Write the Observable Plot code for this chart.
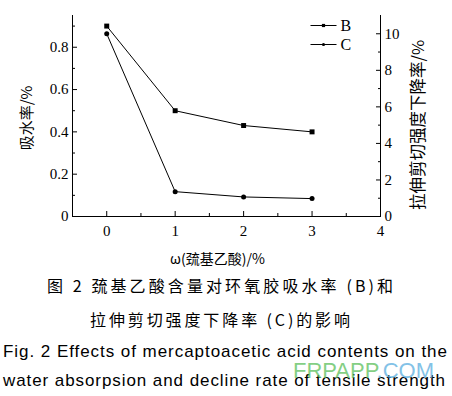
<!DOCTYPE html>
<html><head><meta charset="utf-8">
<script src="https://cdn.jsdelivr.net/npm/d3@7"></script>
<script src="https://cdn.jsdelivr.net/npm/@observablehq/plot@0.6"></script>
<style>
body{margin:0;background:#fff}
#c{position:relative;width:452px;height:396px;overflow:hidden}
#c svg{display:block}
#c g[aria-label$="tick label"] text{font-family:"Liberation Serif","DejaVu Serif",serif !important;font-size:15px}
</style>
</head><body><div id="c"></div>
<script>
// ---- data ----
const contents = [0, 1, 2, 3];                       // ω(巯基乙酸)/%
const waterAbsorption = [0.90, 0.50, 0.43, 0.40];    // B, left axis 吸水率/%
const strengthDecline = [10.0, 1.36, 1.07, 0.98];    // C, right axis 拉伸剪切强度下降率/%
const seriesNames = ["B", "C"];
const xTicks = [0, 1, 2, 3, 4];
const xMinorTicks = [0.5, 1.5, 2.5, 3.5];
const leftTicks = [0, 0.2, 0.4, 0.6, 0.8];
const leftMinorTicks = [0.1, 0.3, 0.5, 0.7, 0.9];
const rightTicks = [0, 2, 4, 6, 8, 10];
const rightMinorTicks = [1, 3, 5, 7, 9];
const xDomain = [-0.5, 4];
const leftDomain = [0, 0.95];
const rightDomain = [0, 11];
const xLabel = "ω(巯基乙酸)/%";
const leftLabel = "吸水率/%";
const rightLabel = "拉伸剪切强度下降率/%";
const captionLines = [
  "图 2  巯基乙酸含量对环氧胶吸水率 (B)和",
  "拉伸剪切强度下降率 (C)的影响",
  "Fig. 2   Effects of mercaptoacetic acid contents on the",
  "water absorpsion and decline rate of tensile strength"
];

// map right-axis values into left-axis space
const toLeft = v => v * leftDomain[1] / rightDomain[1];
const toRight = v => v * rightDomain[1] / leftDomain[1];

const B = contents.map((x, i) => ({x, y: waterAbsorption[i]}));
const C = contents.map((x, i) => ({x, y: toLeft(strengthDecline[i])}));

const legendLine = {draw(ctx) { ctx.moveTo(-13, 0); ctx.lineTo(13, 0); }};
const serif = "Liberation Serif";
const cjk = "Noto Sans CJK SC";

const fmtLeft = d => d === 0 ? "0" : d.toFixed(1);

const chart = Plot.plot({
  width: 452, height: 270,
  marginLeft: 72, marginRight: 72, marginTop: 15, marginBottom: 54,
  x: {domain: xDomain},
  y: {domain: leftDomain},
  style: {fontFamily: serif, fontSize: "15px", color: "#000", background: "#fff"},
  marks: [
    Plot.ruleX([xDomain[0], xDomain[1]], {stroke: "#000", strokeWidth: 1}),
    Plot.ruleY([leftDomain[0]], {stroke: "#000", strokeWidth: 1}),
    Plot.axisX(xTicks, {anchor: "bottom", tickSize: -5, tickPadding: 14, label: null, fontSize: 15, fontFamily: serif}),
    Plot.axisX(xMinorTicks, {anchor: "bottom", tickSize: -3, tickFormat: () => "", label: null}),
    Plot.axisY(leftTicks, {anchor: "left", tickSize: -5, tickPadding: 9, tickFormat: fmtLeft, label: null, fontSize: 15, fontFamily: serif}),
    Plot.axisY(leftMinorTicks, {anchor: "left", tickSize: -3, tickFormat: () => "", label: null}),
    Plot.axisY(rightTicks.map(toLeft), {anchor: "right", tickSize: -5, tickPadding: 9, tickFormat: d => String(Math.round(toRight(d))), label: null, fontSize: 15, fontFamily: serif}),
    Plot.axisY(rightMinorTicks.map(toLeft), {anchor: "right", tickSize: -3, tickFormat: () => "", label: null}),
    Plot.line(B, {x: "x", y: "y", stroke: "#000", strokeWidth: 1}),
    Plot.line(C, {x: "x", y: "y", stroke: "#000", strokeWidth: 1}),
    Plot.dot(B, {x: "x", y: "y", symbol: "square", r: 2.8, fill: "#000", stroke: "none"}),
    Plot.dot(C, {x: "x", y: "y", symbol: "circle", r: 2.5, fill: "#000", stroke: "none"}),
    // legend
    Plot.dot([seriesNames[0]], {frameAnchor: "top-right", dx: -57, dy: 10, symbol: legendLine, r: 4, stroke: "#000", fill: "none", strokeWidth: 1}),
    Plot.dot([seriesNames[1]], {frameAnchor: "top-right", dx: -57, dy: 29, symbol: legendLine, r: 4, stroke: "#000", fill: "none", strokeWidth: 1}),
    Plot.dot([seriesNames[0]], {frameAnchor: "top-right", dx: -57, dy: 10, symbol: "square", r: 1.8, fill: "#000", stroke: "none"}),
    Plot.dot([seriesNames[1]], {frameAnchor: "top-right", dx: -57, dy: 29, symbol: "circle", r: 1.6, fill: "#000", stroke: "none"}),
    Plot.text([seriesNames[0]], {frameAnchor: "top-right", dx: -40, dy: 10, textAnchor: "start", lineAnchor: "middle", fontSize: 16, fontFamily: serif}),
    Plot.text([seriesNames[1]], {frameAnchor: "top-right", dx: -40, dy: 29, textAnchor: "start", lineAnchor: "middle", fontSize: 16, fontFamily: serif}),
    // axis titles
    Plot.text([leftLabel], {frameAnchor: "left", dx: -45, dy: 2, rotate: -90, textAnchor: "middle", lineAnchor: "middle", fontSize: 15, fontFamily: cjk}),
    Plot.text([rightLabel], {frameAnchor: "right", dx: 38, dy: 9, rotate: -90, textAnchor: "middle", lineAnchor: "middle", fontSize: 16.5, fontFamily: cjk}),
    Plot.text([xLabel], {frameAnchor: "bottom", dx: -9, dy: 43, textAnchor: "middle", lineAnchor: "middle", fontSize: 14, fontFamily: cjk})
  ]
});

const root = document.getElementById("c");
root.appendChild(chart);
d3.select(chart).selectAll('g[aria-label$="tick label"]').attr("font-family", "Liberation Serif");

// captions below the chart
const cap = d3.select(root).append("svg")
  .attr("width", 452).attr("height", 126)
  .style("position", "absolute").style("left", "0px").style("top", "270px");

const capSpecs = [
  {y: 22, x: 220, len: 346, size: 16, font: cjk},
  {y: 56, x: 220, len: 260, size: 16, font: cjk},
  {y: 87, x: 225, len: 444, size: 17, font: "Liberation Sans"},
  {y: 116, x: 224, len: 442, size: 17, font: "Liberation Sans"}
];
captionLines.forEach((t, i) => {
  const s = capSpecs[i];
  cap.append("text").text(t)
    .attr("x", s.x).attr("y", s.y)
    .attr("text-anchor", "middle")
    .attr("textLength", s.len).attr("lengthAdjust", "spacing")
    .attr("font-family", s.font).attr("font-size", s.size).attr("fill", "#000");
});

// watermark
const wm = cap.append("text").attr("x", 293).attr("y", 108)
  .attr("font-family", "Liberation Sans").attr("font-size", 22)
  .attr("opacity", 0.75);
wm.append("tspan").text("FRPAPP").attr("fill", "#5cbf5c");
wm.append("tspan").text(".COM").attr("fill", "#5aaee0");
</script>
</body></html>
